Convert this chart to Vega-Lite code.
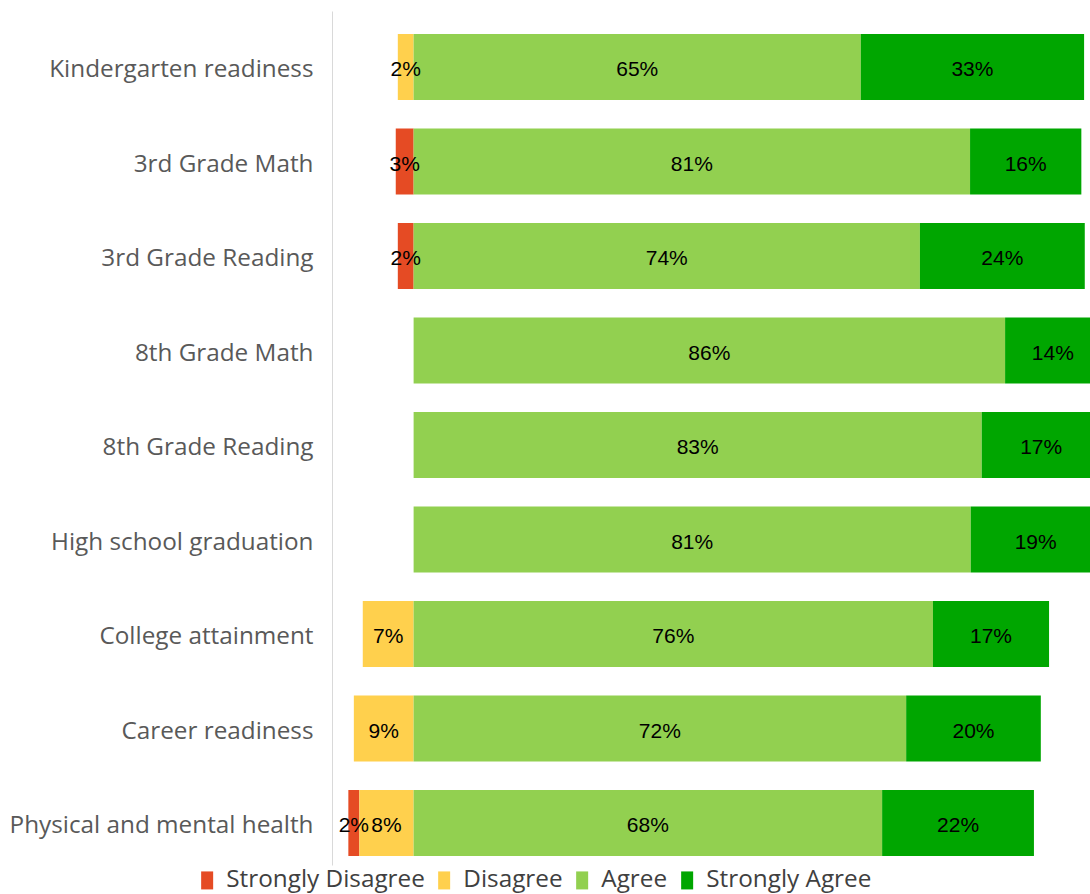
{
  "$schema": "https://vega.github.io/schema/vega-lite/v6.json",
  "autosize": {"type": "none"},
  "padding": {"left": 332, "top": 11, "right": 0, "bottom": 29},
  "width": 758,
  "height": 854,
  "background": "#ffffff",
  "config": {"view": {"stroke": null}},
  "data": {
    "values": [
      {"category": "Kindergarten readiness", "response": "Disagree", "value": -2.3, "label": "2%"},
      {"category": "Kindergarten readiness", "response": "Agree", "value": 65.1, "label": "65%"},
      {"category": "Kindergarten readiness", "response": "Strongly Agree", "value": 32.5, "label": "33%"},
      {"category": "3rd Grade Math", "response": "Strongly Disagree", "value": -2.6, "label": "3%"},
      {"category": "3rd Grade Math", "response": "Agree", "value": 81.0, "label": "81%"},
      {"category": "3rd Grade Math", "response": "Strongly Agree", "value": 16.2, "label": "16%"},
      {"category": "3rd Grade Reading", "response": "Strongly Disagree", "value": -2.3, "label": "2%"},
      {"category": "3rd Grade Reading", "response": "Agree", "value": 73.7, "label": "74%"},
      {"category": "3rd Grade Reading", "response": "Strongly Agree", "value": 24.0, "label": "24%"},
      {"category": "8th Grade Math", "response": "Agree", "value": 86.1, "label": "86%"},
      {"category": "8th Grade Math", "response": "Strongly Agree", "value": 13.9, "label": "14%"},
      {"category": "8th Grade Reading", "response": "Agree", "value": 82.7, "label": "83%"},
      {"category": "8th Grade Reading", "response": "Strongly Agree", "value": 17.3, "label": "17%"},
      {"category": "High school graduation", "response": "Agree", "value": 81.1, "label": "81%"},
      {"category": "High school graduation", "response": "Strongly Agree", "value": 18.9, "label": "19%"},
      {"category": "College attainment", "response": "Disagree", "value": -7.4, "label": "7%"},
      {"category": "College attainment", "response": "Agree", "value": 75.6, "label": "76%"},
      {"category": "College attainment", "response": "Strongly Agree", "value": 16.9, "label": "17%"},
      {"category": "Career readiness", "response": "Disagree", "value": -8.7, "label": "9%"},
      {"category": "Career readiness", "response": "Agree", "value": 71.7, "label": "72%"},
      {"category": "Career readiness", "response": "Strongly Agree", "value": 19.6, "label": "20%"},
      {"category": "Physical and mental health", "response": "Strongly Disagree", "value": -1.6, "label": "2%"},
      {"category": "Physical and mental health", "response": "Disagree", "value": -7.9, "label": "8%"},
      {"category": "Physical and mental health", "response": "Agree", "value": 68.2, "label": "68%"},
      {"category": "Physical and mental health", "response": "Strongly Agree", "value": 22.1, "label": "22%"}
    ]
  },
  "encoding": {
    "y": {
      "field": "category",
      "type": "nominal",
      "sort": ["Kindergarten readiness", "3rd Grade Math", "3rd Grade Reading", "8th Grade Math", "8th Grade Reading", "High school graduation", "College attainment", "Career readiness", "Physical and mental health"],
      "scale": {"paddingInner": 0.3016, "paddingOuter": 0.169, "align": 0.72},
      "axis": {
        "title": null,
        "ticks": false,
        "tickSize": 0,
        "domain": true,
        "domainColor": "#D9D9D9",
        "domainWidth": 1,
        "labelFont": "Open Sans",
        "labelFontSize": 24.3,
        "labelColor": "#595959",
        "labelPadding": 19,
        "labelOffset": 3,
        "labelLimit": 400,
        "grid": false
      }
    },
    "order": {"field": "response", "sort": "ascending"}
  },
  "layer": [
    {
      "mark": {"type": "bar", "clip": true},
      "encoding": {
        "x": {
          "field": "value",
          "type": "quantitative",
          "stack": "zero",
          "scale": {"domain": [-11.88, 98.46], "nice": false, "zero": false},
          "axis": null
        },
        "color": {
          "field": "response",
          "type": "nominal",
          "scale": {
            "domain": ["Strongly Disagree", "Disagree", "Agree", "Strongly Agree"],
            "range": ["#E54B24", "#FFD04D", "#92D050", "#00A600"]
          },
          "legend": {
            "title": null,
            "orient": "none",
            "legendX": -137,
            "legendY": 857,
            "direction": "horizontal",
            "symbolType": "M-0.667,-1H0.667V1H-0.667Z",
            "symbolSize": 324,
            "symbolStrokeWidth": 0,
            "symbolOpacity": 1,
            "labelFont": "Open Sans",
            "labelFontSize": 24.3,
            "labelColor": "#404040",
            "labelOffset": 7,
            "labelLimit": 400,
            "columnPadding": 7,
            "padding": 0
          }
        }
      }
    },
    {
      "mark": {"type": "text", "font": "Liberation Sans", "fontSize": 21, "color": "#000000", "align": "center", "baseline": "middle", "dy": 3},
      "encoding": {
        "x": {
          "field": "value",
          "type": "quantitative",
          "stack": "zero",
          "bandPosition": 0.5
        },
        "detail": {"field": "response"},
        "text": {"field": "label"}
      }
    }
  ]
}
